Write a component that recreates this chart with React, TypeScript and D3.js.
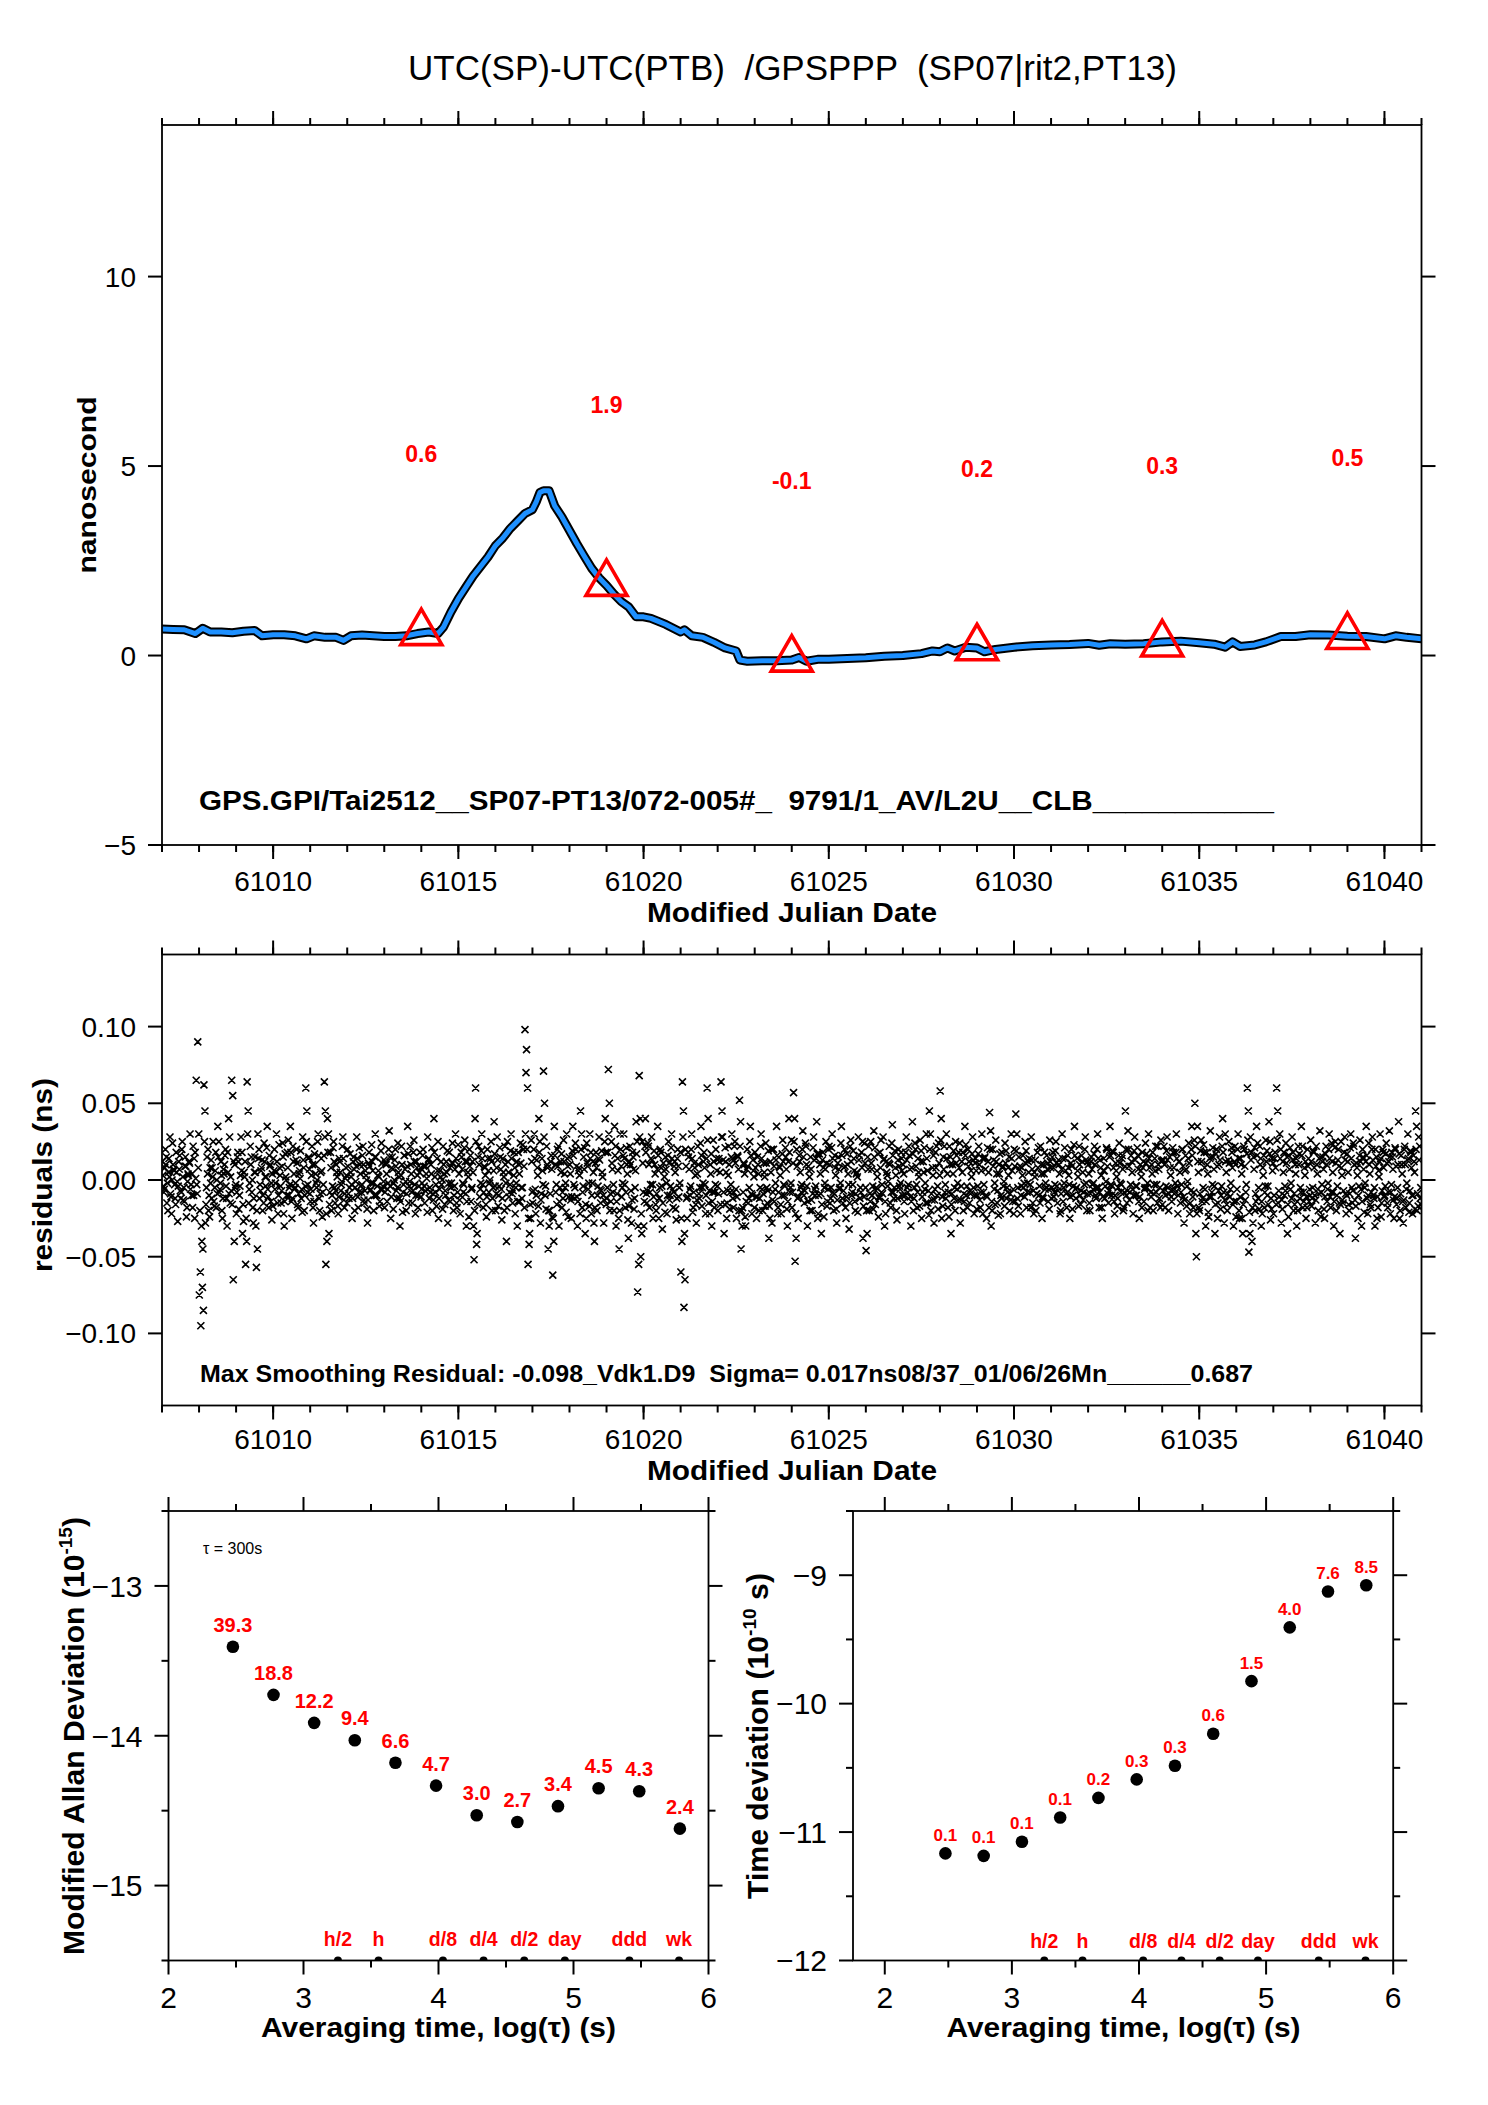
import React from "react";
import * as d3 from "d3";

const W = 1488;
const H = 2105;
const SANS = "'Liberation Sans', Arial, Helvetica, sans-serif";
const NARROW = "'Liberation Sans Narrow', 'Liberation Sans', Arial, sans-serif";
const RED = "#ff0000";
const BLUE = "#1e90ff";
const SP = "\u00a0"; // kept space

// ---------- top panel: UTC(SP)-UTC(PTB), nanosecond ----------
const mjd = [
  61007.0, 61007.3, 61007.6, 61007.9, 61008.1, 61008.3, 61008.6, 61008.9, 61009.2, 61009.5,
  61009.7, 61010.0, 61010.3, 61010.6, 61010.9, 61011.1, 61011.4, 61011.7, 61011.9, 61012.1,
  61012.4, 61012.7, 61013.0, 61013.3, 61013.6, 61013.9, 61014.2, 61014.45, 61014.6, 61014.8,
  61015.0, 61015.2, 61015.4, 61015.6, 61015.8, 61016.0, 61016.2, 61016.4, 61016.6, 61016.8,
  61017.0, 61017.1, 61017.2, 61017.3, 61017.45, 61017.6, 61017.8, 61018.0, 61018.2, 61018.4,
  61018.6, 61018.8, 61019.0, 61019.2, 61019.4, 61019.6, 61019.8, 61020.0, 61020.2, 61020.4,
  61020.6, 61020.8, 61021.0, 61021.1, 61021.3, 61021.6, 61021.9, 61022.2, 61022.5, 61022.6,
  61022.8, 61023.2, 61023.6, 61024.0, 61024.2, 61024.4, 61024.7, 61025.0, 61025.5, 61026.0,
  61026.5, 61027.0, 61027.5, 61027.8, 61028.0, 61028.2, 61028.4, 61028.7, 61029.0, 61029.2,
  61029.5, 61030.0, 61030.5, 61031.0, 61031.5, 61032.0, 61032.3, 61032.6, 61033.0, 61033.5,
  61034.0, 61034.5, 61035.0, 61035.4, 61035.7, 61035.9, 61036.1, 61036.5, 61036.8, 61037.2,
  61037.6, 61038.0, 61038.5, 61039.0, 61039.5, 61040.0, 61040.3, 61040.6, 61041.0,
];
const offsetNs = [
  0.70, 0.69, 0.68, 0.58, 0.72, 0.62, 0.62, 0.60, 0.64, 0.66,
  0.52, 0.55, 0.55, 0.52, 0.44, 0.52, 0.48, 0.48, 0.40, 0.52,
  0.54, 0.52, 0.50, 0.50, 0.52, 0.58, 0.62, 0.58, 0.75, 1.15,
  1.50, 1.80, 2.10, 2.35, 2.60, 2.90, 3.10, 3.35, 3.55, 3.75,
  3.85, 4.05, 4.30, 4.35, 4.35, 3.95, 3.65, 3.30, 2.95, 2.62,
  2.30, 2.05, 1.85, 1.62, 1.42, 1.28, 1.02, 1.02, 0.98, 0.90,
  0.82, 0.72, 0.62, 0.68, 0.52, 0.48, 0.35, 0.20, 0.12, -0.12,
  -0.15, -0.14, -0.14, -0.12, -0.05, -0.15, -0.10, -0.10, -0.08, -0.06,
  -0.02, 0.00, 0.05, 0.12, 0.10, 0.20, 0.12, 0.22, 0.20, 0.10,
  0.16, 0.22, 0.26, 0.28, 0.29, 0.32, 0.27, 0.31, 0.30, 0.31,
  0.36, 0.38, 0.34, 0.30, 0.22, 0.36, 0.24, 0.28, 0.36, 0.50,
  0.50, 0.55, 0.54, 0.51, 0.50, 0.44, 0.52, 0.48, 0.44,
];
const markMjd = [61014, 61019, 61024, 61029, 61034, 61039];
const markNs = [0.6, 1.9, -0.1, 0.2, 0.3, 0.5];
const markLabels = ["0.6", "1.9", "-0.1", "0.2", "0.3", "0.5"];
const markLabelLift = 4.5; // ns above the mark

// ---------- middle panel: residuals, 1/1000 ns, three interleaved runs of 24 samples a day from MJD 61007 ----------
const residualStart = 61007;
const residualPerDay = 24;
const residualsA = [
  12, -8, 20, -15, 5, 28, -22, 10, -3, 18, -27, 7, -12, 25, -5, 15, -18, 3, 30, -10, 22, -25, 65, 90, // 61007
  -75, -95, -70, 62, -28, 15, -20, 8, -12, 25, -5, -18, 35, -8, 12, -25, 4, 20, -30, 40, -15, 65, -65, 10,
  -22, 18, -10, 28, -35, 5, -55, 64, -15, 22, -8, -28, 15, -57, 30, -12, 6, -20, 24, -4, 35, -18, 10, -26,
  14, -6, 30, -22, 8, -15, 24, -30, 2, 18, -10, 35, -25, 12, -5, 20, -18, 6, -12, 28, -20, 60, -8, 15, // 61010
  -14, 22, -28, 10, -5, 30, -20, 14, -8, 64, -55, 40, -35, 18, -10, 25, -15, 5, -22, 12, -3, 28, -18, 8,
  20, -12, 5, -25, 15, -5, 28, -18, 10, -8, 22, -15, 3, -28, 18, -6, 12, -20, 30, -10, 6, -14, 24, -4,
  -18, 10, -6, 32, -25, 15, -2, 20, -12, 5, -30, 22, -8, 16, -20, 35, -4, 10, -15, 26, -22, 8, -10, 18,
  -6, 20, -15, 4, 28, -12, 10, -20, 40, -8, 14, -25, 6, -3, 22, -16, 12, -28, 18, -5, 24, -10, 30, -18,
  10, -22, 15, -8, 26, -30, 5, 20, -14, 12, -52, 60, -35, 22, -6, 30, -18, 8, -24, 14, -2, 25, -12, 38, // 61015
  -20, 28, -10, 15, -26, 5, 22, -40, 12, -8, 30, -15, 18, -5, -30, 10, 24, -12, 20, 98, 85, -55, -35, 26,
  -15, 30, -22, 8, 40, -28, 14, 71, -10, 22, -45, -20, 16, -62, 35, -8, 20, -30, 12, -18, 26, -5, 30, -24,
  10, -25, 35, -12, 20, -30, 8, 45, -18, 15, -35, 24, -6, 30, -22, 12, -40, 18, -10, 28, -15, 5, -28, 40,
  -12, 72, -20, 25, -8, 35, -30, 14, -45, 20, -5, 30, -18, 10, -38, 22, -28, 15, -12, 38, -73, 68, -50, 25,
  -30, 40, -15, 22, -8, 28, -25, 10, -20, 35, -12, 18, -32, 6, 15, -22, 25, -10, 30, -18, 12, -26, 20, -5, // 61020
  -60, 64, -83, 20, -25, 15, -10, 30, -18, 8, -28, 22, -12, 35, -5, 18, -22, 60, -15, 10, -30, 26, -8, 14,
  -20, 12, 64, 28, -35, 12, -15, 22, -8, 30, -18, 25, -25, 15, 52, -45, -18, 10, -30, 20, -12, 35, -22, 6,
  18, -25, 10, -12, 30, -20, 5, 24, -15, -38, 12, -28, 20, -6, 35, -18, 8, -22, 26, -10, 15, -30, 40, -5,
  -18, 57, -53, 20, -25, 12, -8, 32, -15, 22, -30, 6, 15, -20, 28, -10, 38, -22, 10, -35, 18, -5, 25, -14,
  22, -12, 30, -20, 8, -28, 15, -5, 35, -15, 20, -25, 10, -32, 26, -8, 14, -20, 5, 28, -12, 18, -38, 24, // 61025
  -46, 15, -20, 25, -10, 32, -16, 6, -24, 18, -8, 28, -30, 12, -4, 22, -18, 36, -12, 8, -26, 20, -6, 14,
  10, -22, 28, -8, 16, -30, 38, -12, 20, -18, 5, 26, -25, 12, -6, 30, -15, 45, -20, 8, -28, 18, -10, 24,
  58, -25, 15, -8, 30, -18, 22, -35, 10, -12, 25, -6, 18, -28, 12, -20, 35, -10, 20, -15, 6, 28, -22, 14,
  -10, 22, -18, 30, -8, 15, -25, 12, 44, -30, 20, -6, 26, -15, 10, -22, 18, -4, 24, -12, 8, -20, 30, -14,
  20, 43, -12, 15, -22, 8, -5, 25, -18, 12, -8, 28, -15, 5, -20, 18, -10, 22, -25, 10, -6, 16, -14, 26, // 61030
  -12, 18, -8, 25, -15, 10, -20, 30, -5, 14, -18, 8, -25, 20, -10, 35, -12, 6, 22, -16, 12, -8, 28, -20,
  10, -20, 15, -6, 22, -12, 30, -18, 8, -25, 14, -4, 20, -15, 35, -10, 18, -22, 6, -12, 24, -8, 16, -18,
  45, -15, 20, -8, 12, -22, 28, -10, 16, -25, 6, 18, -14, 24, -5, 30, -18, 10, -20, 14, -8, 22, -12, 26,
  -16, 22, -10, 28, -20, 8, -14, 18, -6, 30, -22, 12, -8, 20, -28, 16, -4, 24, -15, 35, -18, 50, -50, 12,
  -20, 26, -12, 18, -30, 10, -24, 32, -8, 15, -35, 20, -15, 28, -10, 40, -28, 12, -20, 25, -6, 18, -30, 22, // 61035
  -14, 30, -25, 10, -35, 20, -8, 60, -47, 28, -40, 15, -20, 35, -12, 22, -30, 8, -18, 26, -10, 38, -26, 14,
  -22, 18, 60, -15, 30, -28, 12, -10, 24, -35, 16, -6, 28, -20, 10, -30, 22, -12, 35, -18, 8, -25, 20, -14,
  26, -12, 18, -28, 10, -20, 32, -8, 15, -25, 22, -6, 30, -18, 12, -30, 25, -10, 20, -35, 8, -15, 28, -22,
  12, -20, 30, -15, 22, -38, 8, -10, 26, -30, 15, -5, 35, -22, 10, -18, 28, -12, 20, -25, 6, 30, -15, 18,
  -10, 24, -18, 32, -8, 15, -25, 20, -12, 38, -20, 10, -28, 22, -6, 30, -15, 18, -22, 12, 45, -20, 28, -12, // 61040
];
const residualsB = [
  3, -6, 10, -2, 14, -9, 0, 7, -12, 5, -4, 16, -8, 2, -14, 9, -1, 12, -6, 4, -10, 18, -3, 8, // 61007
  -20, -30, -45, 25, -16, 4, -10, -2, 8, -14, 6, 0, 15, -6, 3, -12, 10, -4, 18, -9, 2, -16, 12, -5,
  -8, 12, -4, 6, -16, 2, -25, 30, -6, 10, 0, -12, 5, -20, 14, -3, 8, -10, 12, 2, -6, 16, -14, 4,
  6, -2, 12, -10, 3, -7, 15, -14, 0, 8, -5, 18, -12, 4, -2, 11, -9, 1, -6, 13, -10, 25, -3, 7, // 61010
  -6, 10, -14, 4, 0, 16, -9, 6, -3, 28, -22, 18, -16, 8, -4, 12, -7, 2, -11, 5, -1, 14, -9, 3,
  9, -5, 2, -12, 7, -1, 14, -8, 4, -3, 10, -7, 0, -13, 9, -2, 6, -10, 15, -4, 2, -6, 11, -1,
  -8, 4, -2, 15, -11, 7, 0, 9, -5, 2, -14, 10, -3, 7, -9, 17, -1, 4, -7, 12, -10, 3, -4, 8,
  -2, 9, -7, 1, 13, -5, 4, -9, 18, -3, 6, -12, 2, 0, 10, -7, 5, -13, 8, -2, 11, -4, 14, -8,
  4, -10, 7, -3, 12, -14, 2, 9, -6, 5, -20, 25, -16, 10, -2, 14, -8, 3, -11, 6, 0, 12, -5, 17, // 61015
  -9, 13, -4, 7, -12, 2, 10, -18, 5, -3, 14, -7, 8, -2, -14, 4, 11, -5, 9, 30, 20, -25, -16, 12,
  -7, 14, -10, 3, 18, -13, 6, 28, -4, 10, -20, -9, 7, -25, 16, -3, 9, -14, 5, -8, 12, -2, 14, -11,
  4, -11, 16, -5, 9, -14, 3, 20, -8, 7, -16, 11, -2, 14, -10, 5, -18, 8, -4, 13, -7, 2, -13, 18,
  -5, 30, -9, 11, -3, 16, -14, 6, -20, 9, -2, 14, -8, 4, -17, 10, -13, 7, -5, 17, -30, 28, -22, 11,
  -14, 18, -7, 10, -3, 13, -11, 4, -9, 16, -5, 8, -15, 2, 7, -10, 11, -4, 14, -8, 5, -12, 9, -2, // 61020
  -25, 28, -35, 9, -11, 7, -4, 14, -8, 3, -13, 10, -5, 16, -2, 8, -10, 26, -7, 4, -14, 12, -3, 6,
  -9, 5, 28, 13, -16, 5, -7, 10, -3, 14, -8, 11, -11, 7, 22, -20, -8, 4, -14, 9, -5, 16, -10, 2,
  8, -11, 4, -5, 14, -9, 2, 11, -7, -17, 5, -13, 9, -2, 16, -8, 3, -10, 12, -4, 7, -14, 18, -2,
  -8, 25, -22, 9, -11, 5, -3, 15, -7, 10, -14, 2, 7, -9, 13, -4, 17, -10, 4, -16, 8, -2, 11, -6,
  10, -5, 14, -9, 3, -13, 7, -2, 16, -7, 9, -11, 4, -15, 12, -3, 6, -9, 2, 13, -5, 8, -17, 11, // 61025
  -20, 7, -9, 11, -4, 15, -7, 2, -11, 8, -3, 13, -14, 5, -1, 10, -8, 16, -5, 3, -12, 9, -2, 6,
  4, -10, 13, -3, 7, -14, 17, -5, 9, -8, 2, 12, -11, 5, -2, 14, -7, 20, -9, 3, -13, 8, -4, 11,
  26, -11, 7, -3, 14, -8, 10, -16, 4, -5, 11, -2, 8, -13, 5, -9, 16, -4, 9, -7, 2, 13, -10, 6,
  -4, 10, -8, 14, -3, 7, -11, 5, 20, -14, 9, -2, 12, -7, 4, -10, 8, -1, 11, -5, 3, -9, 14, -6,
  9, 19, -5, 7, -10, 3, -2, 11, -8, 5, -3, 13, -7, 2, -9, 8, -4, 10, -11, 4, -2, 7, -6, 12, // 61030
  -5, 8, -3, 11, -7, 4, -9, 14, -2, 6, -8, 3, -11, 9, -4, 16, -5, 2, 10, -7, 5, -3, 13, -9,
  4, -9, 7, -2, 10, -5, 14, -8, 3, -11, 6, -1, 9, -7, 16, -4, 8, -10, 2, -5, 11, -3, 7, -8,
  20, -7, 9, -3, 5, -10, 13, -4, 7, -11, 2, 8, -6, 11, -2, 14, -8, 4, -9, 6, -3, 10, -5, 12,
  -7, 10, -4, 13, -9, 3, -6, 8, -2, 14, -10, 5, -3, 9, -13, 7, -1, 11, -7, 16, -8, 22, -22, 5,
  -9, 12, -5, 8, -14, 4, -11, 15, -3, 7, -16, 9, -7, 13, -4, 18, -13, 5, -9, 11, -2, 8, -14, 10, // 61035
  -6, 14, -11, 4, -16, 9, -3, 26, -21, 13, -18, 7, -9, 16, -5, 10, -14, 3, -8, 12, -4, 17, -12, 6,
  -10, 8, 26, -7, 14, -13, 5, -4, 11, -16, 7, -2, 13, -9, 4, -14, 10, -5, 16, -8, 3, -11, 9, -6,
  12, -5, 8, -13, 4, -9, 15, -3, 7, -11, 10, -2, 14, -8, 5, -14, 11, -4, 9, -16, 3, -7, 13, -10,
  5, -9, 14, -7, 10, -17, 3, -4, 12, -14, 7, -2, 16, -10, 4, -8, 13, -5, 9, -11, 2, 14, -7, 8,
  -4, 11, -8, 15, -3, 7, -11, 9, -5, 17, -9, 4, -13, 10, -2, 14, -7, 8, -10, 5, 20, -9, 13, -5, // 61040
];
const residualsC = [
  -4, 8, 15, -20, 2, -11, 24, 6, -16, -1, 12, -7, 20, -13, 9, -24, 4, 11, -3, -18, 14, 1, -9, 30, // 61007
  -60, -40, -85, 45, -5, 20, -24, 13, 2, -17, 18, -9, 25, -2, -20, 7, 16, -12, 5, 28, -7, 55, -40, -3,
  15, -19, 3, 18, -27, 12, -40, 45, -2, 15, -18, 5, -30, -45, 20, -7, 13, -15, 2, 21, -11, 9, -2, -17,
  20, 5, -15, 23, -4, 9, -22, 17, -10, 26, -3, -14, 22, -6, 13, -16, 4, 19, -21, 8, -4, 45, 14, -9, // 61010
  3, -18, 17, -2, 25, -12, 5, -24, 16, 45, -40, 30, -8, -20, 21, -5, 10, -17, 14, -7, 22, -13, 1, -15,
  -9, 17, -3, 12, -20, 9, -11, 21, -4, 16, -13, 6, -19, 11, -7, 23, -2, 15, -10, 3, -17, 19, -6, 13,
  11, -14, 20, -4, 8, -19, 13, -7, 24, -12, 3, -21, 16, -1, 9, -15, 22, -8, 18, -3, 12, -18, 5, -11,
  16, -4, 9, -21, 14, -8, 21, -13, 2, -17, 25, -6, 12, -19, 4, -10, 19, -2, -14, 11, -20, 7, -15, 23,
  -13, 18, -2, 21, -9, 12, -24, 16, -5, -30, 40, -42, 15, -11, 19, -3, 9, -16, 20, -8, 14, -20, 6, -4, // 61015
  8, -17, 21, -6, 14, -20, -2, 25, -11, 19, -9, 3, -22, 12, 18, -14, -5, 23, -18, 70, 60, -42, -25, -8,
  20, -6, 13, -17, 25, -9, -3, 50, -19, 8, -30, 12, -24, -40, 10, -16, 22, -5, 17, -12, 4, -21, 9, 15,
  -13, 19, -3, 24, -11, 6, -22, 30, -4, 21, -25, 9, -17, 18, -2, -28, 11, -20, 14, -6, 19, -10, 25, -16,
  18, 50, -14, 7, -20, 22, -9, -25, 30, -11, 16, -3, 21, -26, 12, -7, 18, -19, 6, 25, -55, 40, -35, -8,
  22, -9, 24, -18, 14, -3, 19, -16, 7, -25, 20, -4, 11, -21, -2, 16, -13, 21, -6, 9, -19, 14, -11, 18, // 61020
  -40, 45, -65, -12, 18, -6, 20, -21, 11, -16, 4, -9, 24, -17, 12, -3, 14, 40, -22, 17, -8, -18, 20, -4,
  14, -16, 45, -8, 21, -25, 3, -19, 15, -12, 22, -6, 16, -20, 38, -30, 11, -24, 7, -15, 25, -9, 13, -18,
  -11, 15, -20, 22, -6, 11, -17, -5, 19, -25, 20, -8, -14, 13, -22, 9, -16, 17, -3, 21, -19, 12, -8, 26,
  11, 40, -38, -12, 16, -5, 20, -10, 24, -4, 9, -20, -13, 21, -6, 14, -25, 17, -9, 13, -24, 7, -17, 20,
  -15, 21, -8, 16, -19, 11, -6, 24, -12, 8, -18, 17, -3, 22, -10, 19, -14, 4, -21, 16, -8, 25, -11, -5, // 61025
  -35, 22, -14, 7, -19, 21, -5, 17, -12, 26, -9, 14, -22, 3, 11, -15, 24, -8, 19, -20, 13, -4, 18, -10,
  -14, 18, -5, 22, -11, 8, -20, 24, -3, 14, -17, 19, -8, 21, -15, 6, -23, 30, -13, 16, -6, 22, -19, 3,
  40, -17, 22, -12, 4, -24, 15, -9, 19, -20, 16, -13, 24, -4, 18, -14, 23, -18, 12, -9, 17, -5, 11, -19,
  17, -13, 6, -22, 14, -10, 21, -18, 32, -20, 13, -16, 4, -23, 17, -12, 9, -17, 19, -8, 15, -13, 6, -22,
  -14, 30, -17, 9, -4, 16, -11, 19, -2, 14, -18, 7, -22, 13, -9, 21, -15, 4, -12, 18, -5, 11, -19, 8, // 61030
  15, -11, 19, -4, 13, -22, 7, -14, 21, -9, 16, -3, 11, -19, 23, -6, 14, -17, -10, 16, -13, 20, -2, 12,
  -15, 12, -3, 17, -10, 20, -5, 13, -18, 6, -12, 21, -9, 15, -3, 19, -14, 11, -17, 16, -2, 14, -20, 9,
  -10, 32, -13, 16, -6, 19, -4, 21, -14, 10, -18, 12, -5, 17, -20, 8, -11, 18, -3, 22, -15, 7, -18, 13,
  13, -18, 19, -5, 15, -11, 21, -9, 18, -4, 12, -15, 20, -11, 6, -17, 14, -22, 20, -11, 26, -35, 35, -18,
  19, -14, 23, -6, 18, -21, 14, -11, 21, -4, 17, -25, 10, -19, 22, -8, 30, -16, 13, -11, 21, -16, 12, -24, // 61035
  20, -20, 14, -25, 22, -13, 17, 45, -35, 18, -28, 21, -14, 24, -19, 14, -22, 16, -4, 19, -16, 25, -19, 11,
  14, -16, 45, -11, 20, -19, 18, -7, 15, -24, 21, -12, 18, -16, 14, -20, 17, -8, 22, -14, 12, -18, 14, -10,
  -17, 19, -10, 22, -6, 14, -24, 12, -19, 17, -14, 20, -11, 24, -8, 21, -20, 13, -15, 25, -13, 18, -9, 17,
  -16, 21, -5, 24, -13, 11, -25, 16, -6, 20, -21, 12, -12, 24, -16, 20, -10, -30, 15, -18, 12, -24, 20, -11,
  17, -15, 12, -22, 18, -13, 21, -16, 10, -25, 16, -14, 20, -18, 13, -21, 19, -10, 16, -19, 35, -17, 22, -16, // 61040
];
const residualRuns = [residualsA, residualsB, residualsC];
const residualPhase = [0.17, 0.5, 0.83]; // fraction of a sample step

// ---------- bottom panels ----------
const logTau = [2.477, 2.778, 3.079, 3.380, 3.681, 3.982, 4.283, 4.584, 4.885, 5.186, 5.487, 5.788];
const logMdev = [-13.406, -13.727, -13.914, -14.03, -14.18, -14.333, -14.531, -14.576, -14.47, -14.35, -14.37, -14.62];
const mdevLabels = ["39.3", "18.8", "12.2", "9.4", "6.6", "4.7", "3.0", "2.7", "3.4", "4.5", "4.3", "2.4"];
const logTdev = [-11.166, -11.185, -11.075, -10.886, -10.734, -10.59, -10.484, -10.234, -9.825, -9.406, -9.127, -9.078];
const tdevLabels = ["0.1", "0.1", "0.1", "0.1", "0.2", "0.3", "0.3", "0.6", "1.5", "4.0", "7.6", "8.5"];
const spanLogTau = [3.255, 3.556, 4.033, 4.334, 4.635, 4.936, 5.414, 5.782];
const spanLabels = ["h/2", "h", "d/8", "d/4", "d/2", "day", "ddd", "wk"];

// ---------- ticks ----------
const mjdMajor = [61010, 61015, 61020, 61025, 61030, 61035, 61040];
const mjdMinor = d3.range(61007, 61042);
const nsTicks = [-5, 0, 5, 10];
const resTicks = [-0.1, -0.05, 0, 0.05, 0.1];
const resTickLabels = ["\u22120.10", "\u22120.05", "0.00", "0.05", "0.10"];
const tauMajor = [2, 3, 4, 5, 6];
const tauMinor = [2.5, 3.5, 4.5, 5.5];
const mdevMajor = [-15, -14, -13];
const mdevMinor = [-15.5, -14.5, -13.5, -12.5];
const tdevMajor = [-12, -11, -10, -9];
const tdevMinor = [-11.5, -10.5, -9.5, -8.5];

const fmtMinus = (v: number) => (v < 0 ? "\u2212" + Math.abs(v) : String(v));

type Lin = d3.ScaleLinear<number, number>;

function Frame({ x, y, xMajor, xMinor, yMajor, yMinor }: {
  x: Lin; y: Lin; xMajor: number[]; xMinor: number[]; yMajor: number[]; yMinor: number[];
}) {
  const [l, r] = x.range();
  const [b, t] = y.range();
  const big = 14, small = 7;
  const lines: React.ReactNode[] = [];
  const add = (x1: number, y1: number, x2: number, y2: number, k: string) =>
    lines.push(<line key={k} x1={x1} y1={y1} x2={x2} y2={y2} />);
  xMajor.forEach((v) => { add(x(v), t, x(v), t - big, "tM" + v); add(x(v), b, x(v), b + big, "bM" + v); });
  xMinor.forEach((v) => { add(x(v), t, x(v), t - small, "tm" + v); add(x(v), b, x(v), b + small, "bm" + v); });
  yMajor.forEach((v) => { add(l, y(v), l - big, y(v), "lM" + v); add(r, y(v), r + big, y(v), "rM" + v); });
  yMinor.forEach((v) => { add(l, y(v), l - small, y(v), "lm" + v); add(r, y(v), r + small, y(v), "rm" + v); });
  return (
    <g>
      <g stroke="#000" strokeWidth={2}>{lines}</g>
      <rect x={l} y={t} width={r - l} height={b - t} fill="none" stroke="#000" strokeWidth={1.8} />
    </g>
  );
}

export default function App() {
  // top panel
  const x1 = d3.scaleLinear().domain([61007, 61041]).range([162, 1421.5]);
  const y1 = d3.scaleLinear().domain([-5, 14]).range([845, 125]);
  // middle panel
  const y2 = d3.scaleLinear().domain([-0.147, 0.147]).range([1405.5, 954.5]);
  // bottom panels
  const x3 = d3.scaleLinear().domain([2, 6]).range([168.5, 708.5]);
  const y3 = d3.scaleLinear().domain([-15.5, -12.5]).range([1960.5, 1511]);
  const x4 = d3.scaleLinear().domain([1.75, 6]).range([853, 1393.2]);
  const y4 = d3.scaleLinear().domain([-12, -8.5]).range([1960.5, 1511]);

  const offsetLine = d3.line<number>().x((_, i) => x1(mjd[i])).y((d) => y1(d))(offsetNs) || "";
  const tri = d3.symbol().type(d3.symbolTriangle).size(730)() || "";

  const cs = 3.5;
  const cross = (t: number, v: number) => {
    const cx = x1(t);
    const cy = y2(v / 1000);
    return `M${cx - cs},${cy - cs}L${cx + cs},${cy + cs}M${cx - cs},${cy + cs}L${cx + cs},${cy - cs}`;
  };
  const crosses = residualRuns
    .map((run, k) => run.map((v, i) => cross(residualStart + (i + residualPhase[k]) / residualPerDay, v)).join(""))
    .join("");

  const [p1l, p1r] = x1.range();

  return (
    <svg width={W} height={H} viewBox={`0 0 ${W} ${H}`}
      style={{ position: "absolute", left: 0, top: 0, background: "#fff" }}
      fontFamily={SANS}>
      <defs>
        <clipPath id="c1"><rect x={p1l} y={125} width={p1r - p1l} height={720} /></clipPath>
        <clipPath id="c2"><rect x={p1l} y={954.5} width={p1r - p1l} height={451} /></clipPath>
        <clipPath id="c3"><rect x={168.5} y={1511} width={540} height={449.5} /></clipPath>
        <clipPath id="c4"><rect x={853} y={1511} width={540.2} height={449.5} /></clipPath>
      </defs>
      <rect x={0} y={0} width={W} height={H} fill="#fff" />

      <text x={792.5} y={80} fontSize={35} textAnchor="middle" textLength={769} lengthAdjust="spacingAndGlyphs">
        {`UTC(SP)-UTC(PTB) ${SP}/GPSPPP ${SP}(SP07|rit2,PT13)`}
      </text>

      {/* ---------- top panel ---------- */}
      <g clipPath="url(#c1)">
        <path d={offsetLine} fill="none" stroke="#000" strokeWidth={9} strokeLinejoin="round" />
        <path d={offsetLine} fill="none" stroke={BLUE} strokeWidth={5} strokeLinejoin="round" />
      </g>
      {markMjd.map((t, i) => (
        <g key={"m" + i}>
          <path d={tri} transform={`translate(${x1(t)},${y1(markNs[i])})`} fill="none" stroke={RED} strokeWidth={3.6} />
          <text x={x1(t)} y={y1(markNs[i] + markLabelLift)} fill={RED} fontSize={23} fontWeight="bold" textAnchor="middle">
            {markLabels[i]}
          </text>
        </g>
      ))}
      <Frame x={x1} y={y1} xMajor={mjdMajor} xMinor={mjdMinor} yMajor={nsTicks} yMinor={[]} />
      {nsTicks.map((v) => (
        <text key={"yl1" + v} x={136} y={y1(v)} dy="0.36em" fontSize={28} textAnchor="end">{fmtMinus(v)}</text>
      ))}
      {mjdMajor.map((v) => (
        <text key={"xl1" + v} x={x1(v)} y={891} fontSize={28} textAnchor="middle">{v}</text>
      ))}
      <text x={792} y={922} fontSize={27} fontWeight="bold" textAnchor="middle" textLength={290} lengthAdjust="spacingAndGlyphs">
        Modified Julian Date
      </text>
      <text transform="translate(96,485) rotate(-90)" fontSize={26} fontWeight="bold" textAnchor="middle" textLength={177}
        lengthAdjust="spacingAndGlyphs">nanosecond</text>
      <text x={199} y={810} fontSize={27} fontWeight="bold" textLength={1075} lengthAdjust="spacingAndGlyphs">
        {`GPS.GPI/Tai2512__SP07-PT13/072-005#_ ${SP}9791/1_AV/L2U__CLB___________`}
      </text>

      {/* ---------- middle panel ---------- */}
      <g clipPath="url(#c2)">
        <path d={crosses} fill="none" stroke="#000" strokeWidth={1.6} />
      </g>
      <Frame x={x1} y={y2} xMajor={mjdMajor} xMinor={mjdMinor} yMajor={resTicks} yMinor={[]} />
      {resTicks.map((v, i) => (
        <text key={"yl2" + i} x={136} y={y2(v)} dy="0.36em" fontSize={28} textAnchor="end">{resTickLabels[i]}</text>
      ))}
      {mjdMajor.map((v) => (
        <text key={"xl2" + v} x={x1(v)} y={1449} fontSize={28} textAnchor="middle">{v}</text>
      ))}
      <text x={792} y={1480} fontSize={27} fontWeight="bold" textAnchor="middle" textLength={290} lengthAdjust="spacingAndGlyphs">
        Modified Julian Date
      </text>
      <text transform="translate(52,1175) rotate(-90)" fontSize={27} fontWeight="bold" textAnchor="middle" textLength={194}
        lengthAdjust="spacingAndGlyphs">residuals (ns)</text>
      <text x={200} y={1382} fontSize={24} fontWeight="bold" textLength={1053} lengthAdjust="spacingAndGlyphs">
        {`Max Smoothing Residual: -0.098_Vdk1.D9 ${SP}Sigma= 0.017ns08/37_01/06/26Mn______0.687`}
      </text>

      {/* ---------- Modified Allan deviation ---------- */}
      <g clipPath="url(#c3)">
        {spanLogTau.map((v, i) => (
          <circle key={"s3" + i} cx={x3(v)} cy={y3(-15.5)} r={4} fill="#000" />
        ))}
      </g>
      {spanLogTau.map((v, i) => (
        <text key={"sl3" + i} x={x3(v)} y={1946} fill={RED} fontSize={19.5} fontWeight="bold" textAnchor="middle">
          {spanLabels[i]}
        </text>
      ))}
      {logTau.map((v, i) => (
        <g key={"p3" + i}>
          <circle cx={x3(v)} cy={y3(logMdev[i])} r={6.3} fill="#000" />
          <text x={x3(v)} y={y3(logMdev[i]) - 15} fill={RED} fontSize={20} fontWeight="bold" textAnchor="middle">
            {mdevLabels[i]}
          </text>
        </g>
      ))}
      <Frame x={x3} y={y3} xMajor={tauMajor} xMinor={tauMinor} yMajor={mdevMajor} yMinor={mdevMinor} />
      {mdevMajor.map((v) => (
        <text key={"yl3" + v} x={142.5} y={y3(v)} dy="0.36em" fontSize={30} fontFamily={NARROW} textAnchor="end">{fmtMinus(v)}</text>
      ))}
      {tauMajor.map((v) => (
        <text key={"xl3" + v} x={x3(v)} y={2008} fontSize={30} fontFamily={NARROW} textAnchor="middle">{v}</text>
      ))}
      <text x={203} y={1554} fontSize={16}>τ = 300s</text>
      <text x={438.5} y={2037} fontSize={28} fontWeight="bold" textAnchor="middle" textLength={355} lengthAdjust="spacingAndGlyphs">
        Averaging time, log(τ) (s)
      </text>
      <text transform="translate(84,1736) rotate(-90)" fontSize={30} fontWeight="bold" textAnchor="middle" textLength={438}
        lengthAdjust="spacingAndGlyphs">
        Modified Allan Deviation (10<tspan fontSize={19} dy={-12}>-15</tspan><tspan dy={12}>)</tspan>
      </text>

      {/* ---------- Time deviation ---------- */}
      <g clipPath="url(#c4)">
        {spanLogTau.map((v, i) => (
          <circle key={"s4" + i} cx={x4(v)} cy={y4(-12)} r={4} fill="#000" />
        ))}
      </g>
      {spanLogTau.map((v, i) => (
        <text key={"sl4" + i} x={x4(v)} y={1948} fill={RED} fontSize={19.5} fontWeight="bold" textAnchor="middle">
          {spanLabels[i]}
        </text>
      ))}
      {logTau.map((v, i) => (
        <g key={"p4" + i}>
          <circle cx={x4(v)} cy={y4(logTdev[i])} r={6.3} fill="#000" />
          <text x={x4(v)} y={y4(logTdev[i]) - 12.5} fill={RED} fontSize={17} fontWeight="bold" textAnchor="middle">
            {tdevLabels[i]}
          </text>
        </g>
      ))}
      <Frame x={x4} y={y4} xMajor={tauMajor} xMinor={tauMinor} yMajor={tdevMajor} yMinor={tdevMinor} />
      {tdevMajor.map((v) => (
        <text key={"yl4" + v} x={827} y={y4(v)} dy="0.36em" fontSize={30} fontFamily={NARROW} textAnchor="end">{fmtMinus(v)}</text>
      ))}
      {tauMajor.map((v) => (
        <text key={"xl4" + v} x={x4(v)} y={2008} fontSize={30} fontFamily={NARROW} textAnchor="middle">{v}</text>
      ))}
      <text x={1123.5} y={2037} fontSize={28} fontWeight="bold" textAnchor="middle" textLength={354} lengthAdjust="spacingAndGlyphs">
        Averaging time, log(τ) (s)
      </text>
      <text transform="translate(768,1736) rotate(-90)" fontSize={30} fontWeight="bold" textAnchor="middle" textLength={326}
        lengthAdjust="spacingAndGlyphs">
        Time deviation (10<tspan fontSize={19} dy={-12}>-10</tspan><tspan dy={12}> s)</tspan>
      </text>
    </svg>
  );
}
